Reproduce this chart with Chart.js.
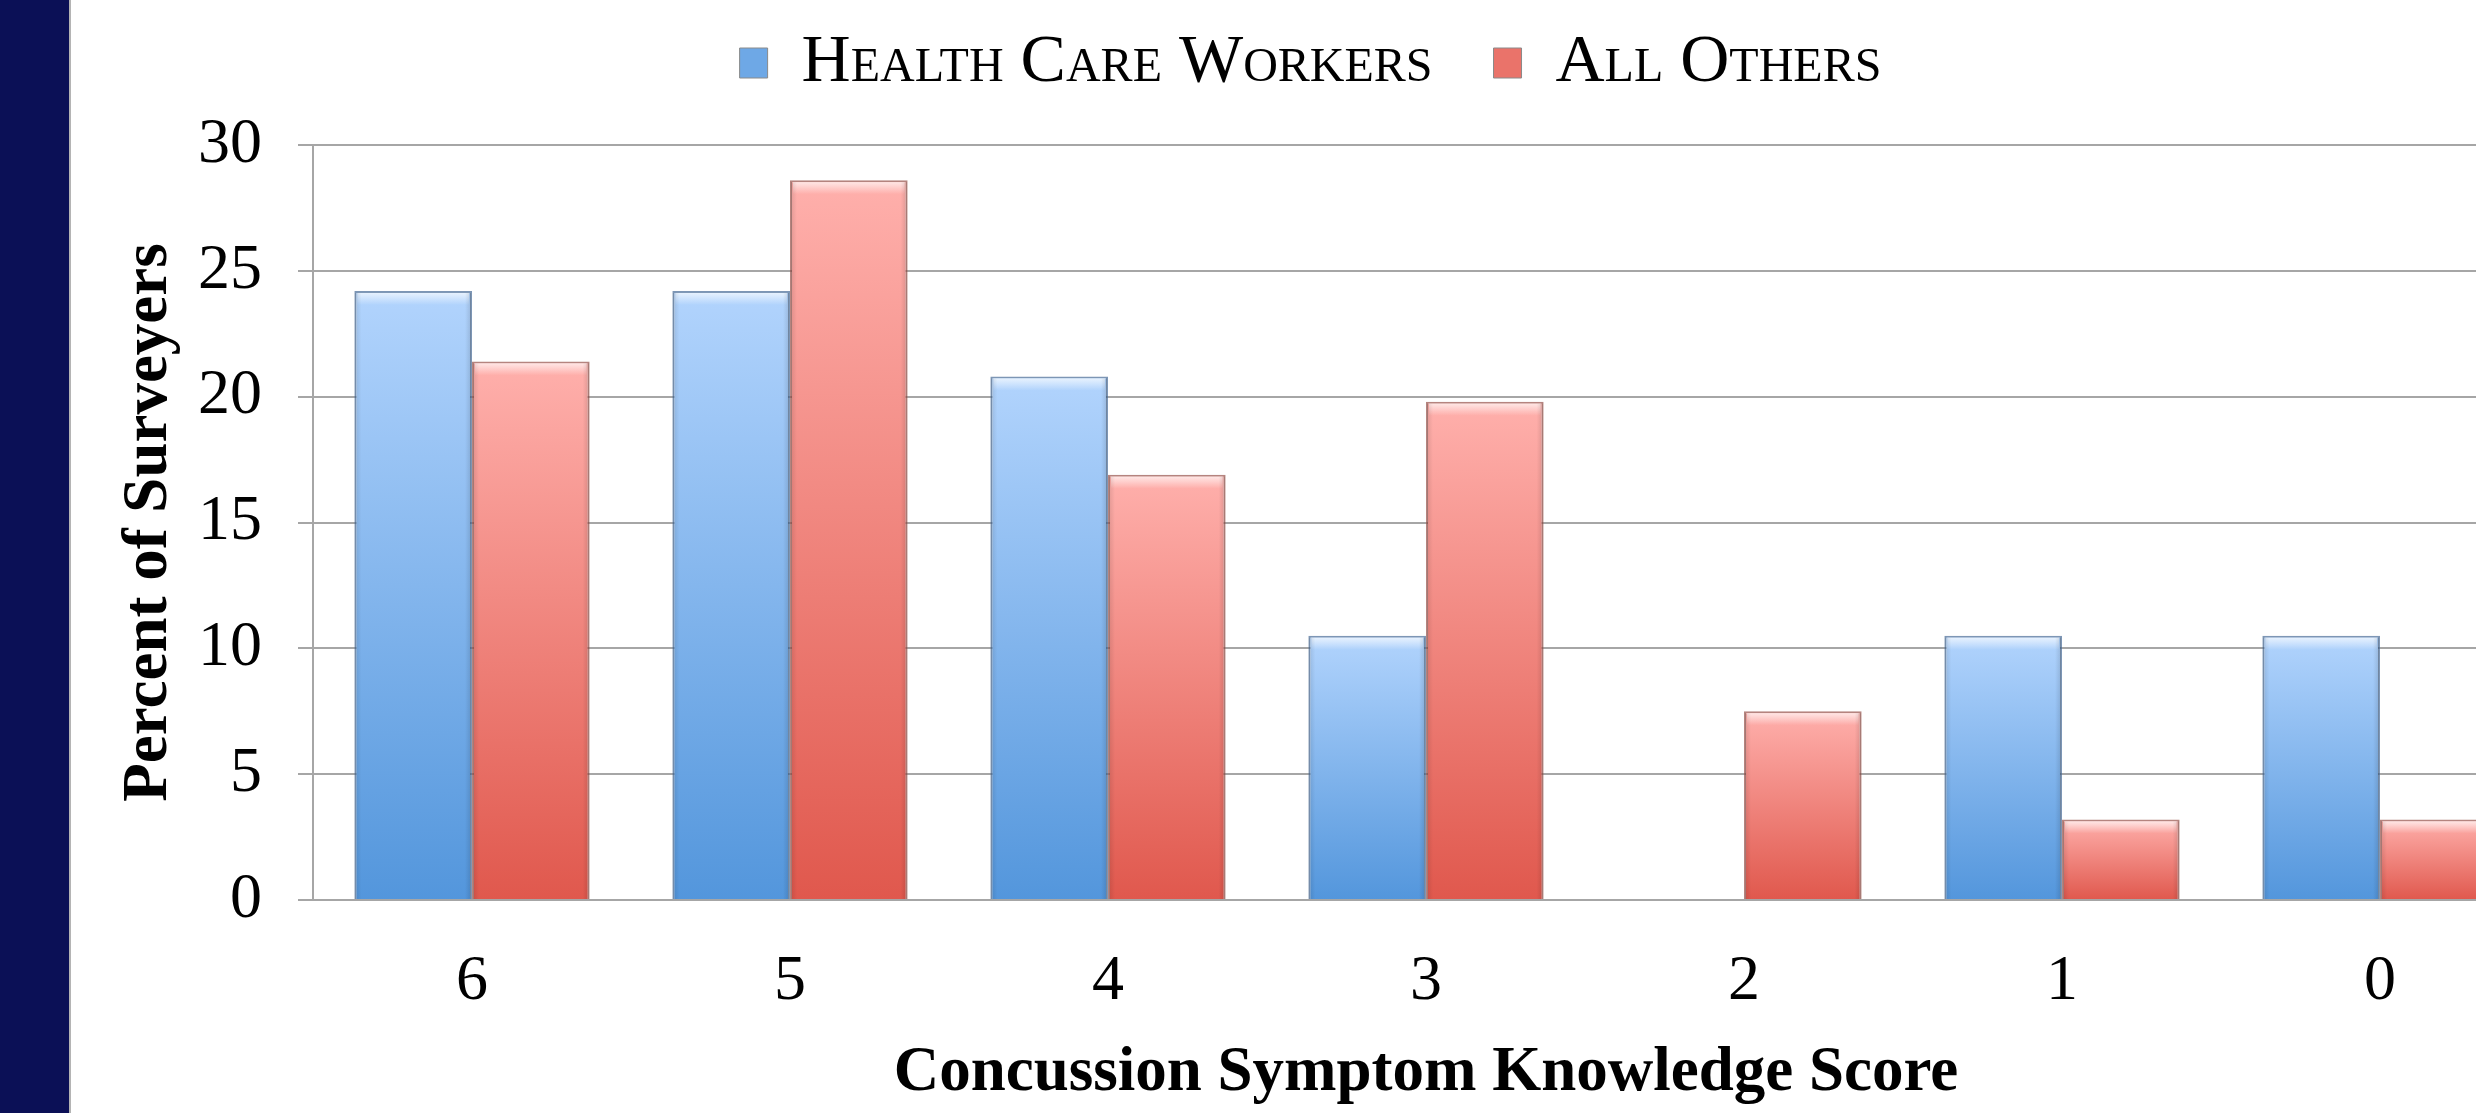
<!DOCTYPE html>
<html>
<head>
<meta charset="utf-8">
<script src="https://cdn.jsdelivr.net/npm/chart.js@4/dist/chart.umd.min.js"></script>
<style>
  html, body { margin: 0; padding: 0; background: #ffffff; overflow: hidden; width: 2476px; height: 1113px; }
  #strip { position: absolute; left: 0; top: 0; width: 69px; height: 1113px; background: #0b1056; border-right: 2px solid #b4b4b4; }
  #box { position: absolute; left: 72px; top: 0; width: 2498px; height: 1113px; }
</style>
</head>
<body>
<div id="strip"></div>
<div id="box"><canvas id="chart"></canvas></div>
<script>
var categories = ["6", "5", "4", "3", "2", "1", "0"];
var healthCareWorkers = [24.2, 24.2, 20.8, 10.5, 0, 10.5, 10.5];
var allOthers = [21.4, 28.6, 16.9, 19.8, 7.5, 3.2, 3.2];
var seriesNames = ["Health Care Workers", "All Others"];
var yTicks = [0, 5, 10, 15, 20, 25, 30];

(function () {
  var serif = "'Liberation Serif', 'Times New Roman', serif";

  function barFill(top, bottom) {
    return function (ctx) {
      var chart = ctx.chart;
      if (!chart.chartArea || ctx.type !== "data") return bottom;
      var y = chart.scales.y;
      var y0 = y.getPixelForValue(ctx.raw);
      var y1 = y.getPixelForValue(0);
      if (y1 - y0 < 1) return bottom;
      var g = chart.ctx.createLinearGradient(0, y0, 0, y1);
      g.addColorStop(0, top);
      g.addColorStop(1, bottom);
      return g;
    };
  }

  // soft bevel: light top edge, darker sides
  var bevel = {
    id: "bevel",
    afterDatasetsDraw: function (chart) {
      var c = chart.ctx;
      chart.data.datasets.forEach(function (ds, i) {
        chart.getDatasetMeta(i).data.forEach(function (bar) {
          var h = bar.base - bar.y;
          if (h < 4) return;
          var left = bar.x - bar.width / 2;
          var right = bar.x + bar.width / 2;
          var band = Math.min(14, h / 2);
          c.save();
          var g = c.createLinearGradient(0, bar.y, 0, bar.y + band);
          g.addColorStop(0, "rgba(255,255,255,0.8)");
          g.addColorStop(1, "rgba(255,255,255,0)");
          c.fillStyle = g;
          c.fillRect(left + 3, bar.y + 2, bar.width - 6, band);
          var gl = c.createLinearGradient(left, 0, left + 7, 0);
          gl.addColorStop(0, "rgba(0,0,0,0.12)");
          gl.addColorStop(1, "rgba(0,0,0,0)");
          c.fillStyle = gl;
          c.fillRect(left + 1, bar.y + 2, 7, h - 2);
          var gr = c.createLinearGradient(right - 7, 0, right, 0);
          gr.addColorStop(0, "rgba(0,0,0,0)");
          gr.addColorStop(1, "rgba(0,0,0,0.14)");
          c.fillStyle = gr;
          c.fillRect(right - 8, bar.y + 2, 7, h - 2);
          c.restore();
        });
      });
    },
  };

  // leave room under the legend
  var legendGap = {
    id: "legendGap",
    beforeInit: function (chart) {
      var fit = chart.legend.fit;
      chart.legend.fit = function () {
        fit.call(this);
        this.height += 38;
      };
    },
  };

  new Chart(document.getElementById("chart"), {
    type: "bar",
    data: {
      labels: categories,
      datasets: [
        {
          label: seriesNames[0],
          data: healthCareWorkers,
          backgroundColor: barFill("#b2d4fd", "#5396dc"),
          borderColor: "rgba(70,105,150,0.7)",
          borderWidth: 2,
          categoryPercentage: 0.74,
          barPercentage: 1.0,
        },
        {
          label: seriesNames[1],
          data: allOthers,
          backgroundColor: barFill("#ffb0ac", "#e0584d"),
          borderColor: "rgba(150,80,72,0.7)",
          borderWidth: 2,
          categoryPercentage: 0.74,
          barPercentage: 1.0,
        },
      ],
    },
    plugins: [bevel, legendGap],
    options: {
      responsive: true,
      maintainAspectRatio: false,
      animation: false,
      layout: { padding: { left: 10, right: 31, top: -32, bottom: 0 } },
      plugins: {
        tooltip: { enabled: false },
        legend: {
          position: "top",
          labels: {
            color: "#000000",
            font: { family: serif, size: 68, weight: "small-caps 400" },
            boxWidth: 28,
            boxHeight: 30,
            padding: 61,
            generateLabels: function (chart) {
              var fills = ["#6ea8e6", "#ea736a"];
              return chart.data.datasets.map(function (ds, i) {
                return {
                  text: ds.label,
                  fillStyle: fills[i],
                  strokeStyle: "#8a8a8a",
                  lineWidth: 1,
                  datasetIndex: i,
                  fontColor: "#000000",
                };
              });
            },
          },
        },
      },
      scales: {
        x: {
          afterFit: function (scale) { scale.height = 213; },
          grid: { display: false, drawTicks: false },
          border: { display: true, color: "#a6a6a6", width: 2 },
          ticks: { color: "#000000", font: { family: serif, size: 64 }, padding: 44 },
          title: {
            display: true,
            text: "Concussion Symptom Knowledge Score",
            color: "#000000",
            font: { family: serif, size: 63, weight: "bold" },
            padding: { top: 10, bottom: 1 },
          },
        },
        y: {
          min: 0,
          max: 30,
          afterBuildTicks: function (axis) {
            axis.ticks = yTicks.map(function (v) { return { value: v }; });
          },
          afterFit: function (scale) { scale.width = 231; },
          grid: { color: "#a6a6a6", lineWidth: 2, tickLength: 15 },
          border: { display: true, color: "#a6a6a6", width: 2 },
          ticks: { color: "#000000", font: { family: serif, size: 64 }, padding: 36 },
          title: {
            display: true,
            text: "Percent of Surveyers",
            color: "#000000",
            font: { family: serif, size: 63, weight: "bold" },
            padding: { top: 30, bottom: 10 },
          },
        },
      },
    },
  });
})();
</script>
</body>
</html>
